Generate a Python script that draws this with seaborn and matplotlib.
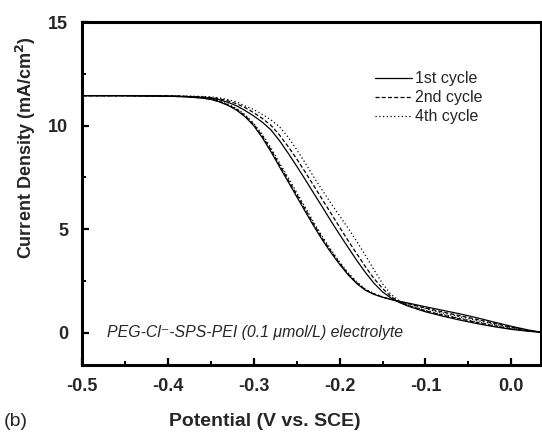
import numpy as np
import pandas as pd
import matplotlib
matplotlib.use("Agg")
import matplotlib.pyplot as plt
from matplotlib.lines import Line2D
from matplotlib.ticker import MultipleLocator
import seaborn as sns

# Potential grid shared by every scan branch (V vs. SCE)
potential = [-0.50, -0.45, -0.40, -0.38, -0.36, -0.35, -0.34, -0.33, -0.32, -0.31,
             -0.30, -0.29, -0.28, -0.27, -0.26, -0.25, -0.24, -0.23, -0.22, -0.21,
             -0.20, -0.19, -0.18, -0.17, -0.16, -0.15, -0.14, -0.13, -0.12, -0.10,
             -0.08, -0.06, -0.04, -0.02, 0.00, 0.02, 0.035]

# Current density (mA/cm^2), cathodic-going branch of each cycle
c1_down = [11.45, 11.45, 11.42, 11.40, 11.33, 11.27, 11.15, 10.98, 10.75, 10.43,
           10.00, 9.42, 8.75, 8.02, 7.30, 6.58, 5.86, 5.15, 4.48, 3.87,
           3.31, 2.80, 2.38, 2.06, 1.86, 1.72, 1.61, 1.52, 1.44, 1.26,
           1.09, 0.92, 0.73, 0.52, 0.32, 0.14, 0.03]
c2_down = [11.45, 11.45, 11.42, 11.40, 11.34, 11.28, 11.17, 11.01, 10.79, 10.48,
           10.06, 9.50, 8.84, 8.11, 7.40, 6.68, 5.96, 5.24, 4.56, 3.94,
           3.37, 2.85, 2.42, 2.09, 1.88, 1.73, 1.62, 1.51, 1.41, 1.20,
           1.01, 0.83, 0.65, 0.46, 0.28, 0.12, 0.03]
c4_down = [11.45, 11.45, 11.42, 11.40, 11.35, 11.29, 11.19, 11.04, 10.83, 10.53,
           10.12, 9.58, 8.93, 8.21, 7.50, 6.78, 6.06, 5.33, 4.65, 4.01,
           3.43, 2.90, 2.46, 2.12, 1.90, 1.74, 1.62, 1.50, 1.38, 1.16,
           0.96, 0.78, 0.60, 0.42, 0.25, 0.11, 0.03]

# Current density (mA/cm^2), return branch of each cycle
c1_up = [11.45, 11.45, 11.43, 11.41, 11.37, 11.33, 11.25, 11.13, 10.96, 10.73,
         10.47, 10.17, 9.80, 9.28, 8.68, 8.05, 7.40, 6.73, 6.07, 5.40,
         4.75, 4.12, 3.50, 2.92, 2.40, 1.98, 1.68, 1.46, 1.29, 1.02,
         0.81, 0.62, 0.45, 0.30, 0.17, 0.08, 0.03]
c2_up = [11.45, 11.45, 11.44, 11.42, 11.39, 11.36, 11.30, 11.20, 11.06, 10.87,
         10.63, 10.35, 10.02, 9.55, 9.00, 8.40, 7.76, 7.10, 6.43, 5.77,
         5.10, 4.45, 3.82, 3.20, 2.63, 2.15, 1.75, 1.49, 1.31, 1.06,
         0.86, 0.68, 0.50, 0.34, 0.20, 0.09, 0.03]
c4_up = [11.45, 11.45, 11.44, 11.43, 11.41, 11.39, 11.34, 11.26, 11.15, 10.95,
         10.78, 10.55, 10.28, 9.95, 9.45, 8.85, 8.20, 7.52, 6.88, 6.25,
         5.65, 5.05, 4.42, 3.75, 3.05, 2.38, 1.85, 1.54, 1.34, 1.09,
         0.89, 0.71, 0.53, 0.36, 0.21, 0.10, 0.03]

cycle_names = ["1st cycle", "2nd cycle", "4th cycle"]

frames = []
for name, down, up in zip(cycle_names, [c1_down, c2_down, c4_down], [c1_up, c2_up, c4_up]):
    frames.append(pd.DataFrame({"potential": potential, "current": down,
                                "cycle": name, "branch": name + " down"}))
    frames.append(pd.DataFrame({"potential": potential[::-1], "current": up[::-1],
                                "cycle": name, "branch": name + " up"}))
df = pd.concat(frames, ignore_index=True)

sns.set_theme(style="white")
plt.rcParams["font.family"] = ["Liberation Sans", "DejaVu Sans"]

fig = plt.figure(figsize=(5.42, 4.33), dpi=100)
ax = fig.add_axes([0.1513, 0.157, 0.8475, 0.792])

dash_styles = {"1st cycle": "", "2nd cycle": (3.2, 1.8), "4th cycle": (1.0, 2.0)}
sns.lineplot(data=df, x="potential", y="current", hue="cycle", style="cycle",
             units="branch", estimator=None, sort=False,
             palette={n: "black" for n in cycle_names}, dashes=dash_styles,
             linewidth=0.9, legend=False, ax=ax)

ax.set_xlim(-0.5, 0.035)
ax.set_ylim(-1.55, 15)
ax.xaxis.set_minor_locator(MultipleLocator(0.05))
ax.yaxis.set_minor_locator(MultipleLocator(2.5))
ax.set_xticks([-0.5, -0.4, -0.3, -0.2, -0.1, 0.0])
ax.set_xticklabels(["-0.5", "-0.4", "-0.3", "-0.2", "-0.1", "0.0"])
ax.set_yticks([0, 5, 10, 15])
ax.set_yticklabels(["0", "5", "10", "15"])

for side, sp in ax.spines.items():
    sp.set_color("black")
    sp.set_linewidth(2.2)
ax.tick_params(which="major", direction="in", length=5, width=1.6, color="black",
               labelsize=13, pad=10, bottom=True, left=True, top=False, right=False)
ax.tick_params(which="minor", direction="in", length=3, width=1.4, color="black",
               bottom=True, left=True, top=False, right=False)
for lab in ax.get_xticklabels() + ax.get_yticklabels():
    lab.set_fontweight("bold")
ax.tick_params(axis="x", pad=9)

ax.set_xlabel("Potential (V vs. SCE)", fontsize=14, fontweight="bold")
ax.set_ylabel("Current Density (mA/cm$^\\mathbf{2}$)", fontsize=13, fontweight="bold")
ax.xaxis.set_label_coords(0.397, -0.14)
ax.yaxis.set_label_coords(-0.095, 0.633)

ax.text(-0.471, 0.0, "PEG-Cl\u207b-SPS-PEI (0.1 \u03bcmol/L) electrolyte",
        fontsize=11.4, fontstyle="italic", va="center", ha="left",
        family=["Liberation Sans", "DejaVu Sans"])

handles = [Line2D([], [], color="black", lw=0.9, linestyle="-"),
           Line2D([], [], color="black", lw=0.9, linestyle=(0, (3.2, 1.8))),
           Line2D([], [], color="black", lw=0.9, linestyle=(0, (1.0, 2.0)))]
ax.legend(handles, cycle_names, frameon=False, fontsize=11.5, loc="upper left",
          bbox_to_anchor=(0.62, 0.88), handlelength=2.3, handletextpad=0.2,
          labelspacing=0.25, borderpad=0.0)

fig.text(0.006, 0.027, "(b)", fontsize=14, ha="left", va="center")

fig.savefig("out.png", dpi=100, facecolor="white")
